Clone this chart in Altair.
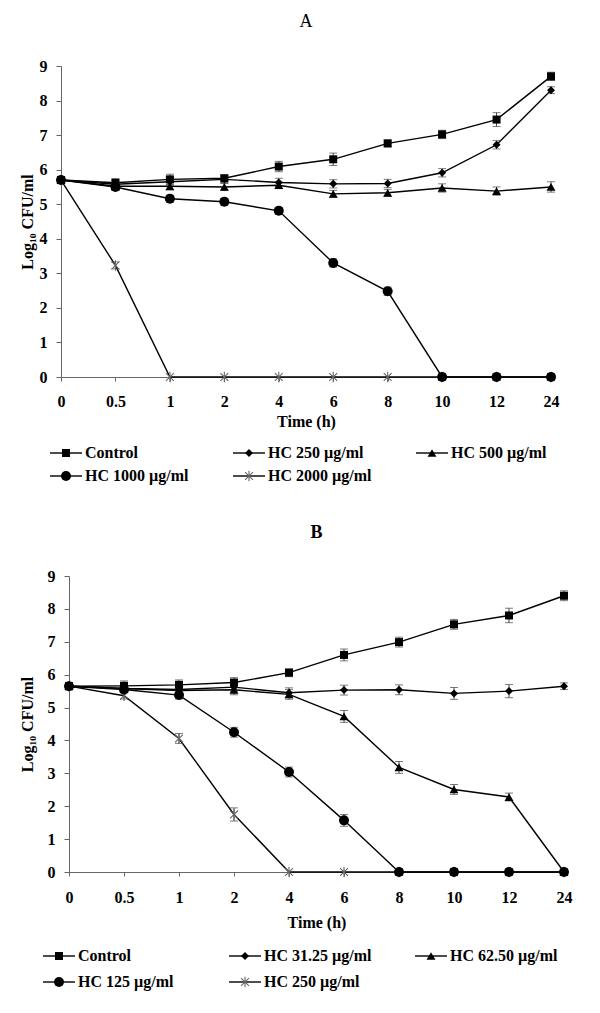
import altair as alt
import pandas as pd

FONT = "Liberation Serif"
times = ["0", "0.5", "1", "2", "4", "6", "8", "10", "12", "24"]

# ---------- Panel A ----------
a_names = ["Control", "HC 250 µg/ml", "HC 500 µg/ml", "HC 1000 µg/ml", "HC 2000 µg/ml"]
a_control = [5.70, 5.62, 5.72, 5.75, 6.09, 6.30, 6.76, 7.02, 7.45, 8.70]
a_hc250 = [5.70, 5.58, 5.65, 5.72, 5.63, 5.59, 5.60, 5.91, 6.72, 8.30]
a_hc500 = [5.70, 5.52, 5.52, 5.50, 5.55, 5.30, 5.33, 5.47, 5.38, 5.50]
a_hc1000 = [5.70, 5.50, 5.16, 5.07, 4.81, 3.30, 2.48, 0, 0, 0]
a_hc2000 = [5.70, 3.23, 0, 0, 0, 0, 0, 0, 0, 0]
a_err_control = [0.08, 0.12, 0.15, 0.10, 0.15, 0.18, 0.10, 0.12, 0.20, 0.12]
a_err_hc250 = [0.08, 0.10, 0.10, 0.10, 0.12, 0.12, 0.12, 0.12, 0.12, 0.10]
a_err_hc500 = [0.08, 0.10, 0.10, 0.10, 0.10, 0.10, 0.10, 0.12, 0.12, 0.15]
a_err_hc1000 = [0.08, 0.10, 0.10, 0.10, 0.10, 0.12, 0.12, 0, 0, 0]
a_err_hc2000 = [0.08, 0.10, 0, 0, 0, 0, 0, 0, 0, 0]

# ---------- Panel B ----------
b_names = ["Control", "HC 31.25 µg/ml", "HC 62.50 µg/ml", "HC 125 µg/ml", "HC 250 µg/ml"]
b_control = [5.65, 5.66, 5.69, 5.76, 6.06, 6.60, 6.99, 7.53, 7.80, 8.40]
b_hc3125 = [5.65, 5.58, 5.55, 5.62, 5.45, 5.53, 5.54, 5.43, 5.50, 5.65]
b_hc625 = [5.65, 5.58, 5.52, 5.54, 5.40, 4.73, 3.18, 2.51, 2.28, 0]
b_hc125 = [5.65, 5.55, 5.38, 4.25, 3.04, 1.57, 0, 0, 0, 0]
b_hc250 = [5.65, 5.36, 4.06, 1.75, 0, 0, 0, 0, 0, 0]
b_err_control = [0.08, 0.15, 0.15, 0.15, 0.12, 0.18, 0.15, 0.15, 0.22, 0.15]
b_err_hc3125 = [0.08, 0.12, 0.12, 0.12, 0.15, 0.15, 0.15, 0.18, 0.20, 0.10]
b_err_hc625 = [0.08, 0.12, 0.12, 0.15, 0.15, 0.18, 0.18, 0.15, 0.12, 0]
b_err_hc125 = [0.08, 0.10, 0.12, 0.15, 0.15, 0.18, 0, 0, 0, 0]
b_err_hc250 = [0.08, 0.10, 0.15, 0.20, 0, 0, 0, 0, 0, 0]

shapes = ["square", "diamond", "triangle-up", "circle", "asterisk"]
sizes = [64, 64, 80, 100, 110]
ASTER = "M0,-1L0,1M-0.75,-0.75L0.75,0.75M-0.75,0.75L0.75,-0.75"


def build_df(names, vals, errs):
    rows = []
    for k, (n, v, e) in enumerate(zip(names, vals, errs)):
        for i, t in enumerate(times):
            rows.append(dict(time=t, idx=i, series=n, k=k, value=v[i], err=e[i],
                             lo=v[i] - e[i], hi=v[i] + e[i],
                             shape=shapes[k], size=sizes[k]))
    return pd.DataFrame(rows)


def panel(df, title, title_weight, width, height, toff, ytitle_pad, xlab_pad, xtitle_pad):
    x = alt.X("time:O", sort=times, scale=alt.Scale(type="point", padding=0),
              axis=alt.Axis(title="Time (h)", labelAngle=0, labelPadding=xlab_pad,
                            titlePadding=xtitle_pad, tickSize=4))
    yscale = alt.Scale(domain=[0, 9])
    yaxis = alt.Axis(values=list(range(10)), title="Log₁₀ CFU/ml", grid=False,
                     tickSize=5, labelPadding=9, titlePadding=ytitle_pad)
    base = alt.Chart(df)
    lines = base.mark_line(color="black", strokeWidth=1.4).encode(
        x=x, y=alt.Y("value:Q", scale=yscale, axis=yaxis),
        detail="series:N", order=alt.Order("idx:Q"))
    eb = base.transform_filter("datum.err > 0")
    rules = eb.mark_rule(color="#444", strokeWidth=1).encode(
        x=x, y=alt.Y("lo:Q", scale=yscale, axis=yaxis), y2="hi:Q")
    cap_lo = eb.mark_tick(color="#444", size=8, thickness=1).encode(
        x=x, y=alt.Y("lo:Q", scale=yscale, axis=yaxis))
    cap_hi = eb.mark_tick(color="#444", size=8, thickness=1).encode(
        x=x, y=alt.Y("hi:Q", scale=yscale, axis=yaxis))
    aster = base.transform_filter("datum.shape == 'asterisk'").mark_point(
        shape=ASTER, filled=False, size=110, color="#666", strokeWidth=1.1, opacity=1).encode(
        x=x, y=alt.Y("value:Q", scale=yscale, axis=yaxis))
    pts = base.transform_filter("datum.shape != 'asterisk'").mark_point(
        filled=True, color="black", opacity=1).encode(
        x=x, y=alt.Y("value:Q", scale=yscale, axis=yaxis),
        shape=alt.Shape("shape:N", scale=None),
        size=alt.Size("size:Q", scale=None))
    return alt.layer(lines, rules, cap_lo, cap_hi, aster, pts).properties(
        width=width, height=height,
        title=alt.TitleParams(title, font=FONT, fontSize=18, fontWeight=title_weight,
                              color="black", offset=toff, anchor="middle"))


def legend(names, width, height, colstep, x0, top, rowstep):
    rows = []
    for k, n in enumerate(names):
        rows.append(dict(series=n, col=k % 3, row=k // 3, shape=shapes[k], size=sizes[k]))
    df = pd.DataFrame(rows)
    xs = alt.X("col:Q", scale=alt.Scale(domain=[0, 3], range=[x0, x0 + 3 * colstep]), axis=None)
    ys = alt.Y("row:Q", scale=alt.Scale(domain=[0, 1], range=[top, top + rowstep]), axis=None)
    base = alt.Chart(df)
    ln = base.mark_rule(color="black", strokeWidth=1.4, x2Offset=32).encode(
        x=xs, x2="col:Q", y=ys)
    ast = base.transform_filter("datum.shape == 'asterisk'").mark_point(
        shape=ASTER, filled=False, size=110, color="#666", strokeWidth=1.1, opacity=1,
        xOffset=16).encode(x=xs, y=ys)
    pt = base.transform_filter("datum.shape != 'asterisk'").mark_point(
        filled=True, color="black", opacity=1, xOffset=16).encode(
        x=xs, y=ys, shape=alt.Shape("shape:N", scale=None),
        size=alt.Size("size:Q", scale=None))
    tx = base.mark_text(align="left", baseline="middle", font=FONT, fontSize=16,
                        fontWeight="bold", color="black", xOffset=35).encode(
        x=xs, y=ys, text="series:N")
    return alt.layer(ln, ast, pt, tx).properties(width=width, height=height)


def spacer():
    return alt.Chart(pd.DataFrame({"v": [0]})).mark_rule(opacity=0).encode(
        x=alt.value(0), y=alt.value(0), y2=alt.value(1)).properties(width=1, height=1)


dfa = build_df(a_names, [a_control, a_hc250, a_hc500, a_hc1000, a_hc2000],
               [a_err_control, a_err_hc250, a_err_hc500, a_err_hc1000, a_err_hc2000])
dfb = build_df(b_names, [b_control, b_hc3125, b_hc625, b_hc125, b_hc250],
               [b_err_control, b_err_hc3125, b_err_hc625, b_err_hc125, b_err_hc250])

pa = panel(dfa, "A", "normal", 490, 311, 27, 4, 12, 4)
pb = panel(dfb, "B", "bold", 495, 296, 26, 12, 13, 9)
la = legend(a_names, 490, 46, 183, -11, 14, 23)
lb = legend(b_names, 495, 50, 186, -26, 16, 26)

row_a = alt.hconcat(spacer(), alt.vconcat(pa, la, spacing=10), spacing=5)
row_b = alt.hconcat(spacer(), alt.vconcat(pb, lb, spacing=10), spacing=5)

chart = alt.vconcat(row_a, row_b, spacing=39).configure_axis(
    labelFont=FONT, labelFontWeight="bold", labelFontSize=16, labelColor="black",
    titleFont=FONT, titleFontWeight="bold", titleFontSize=16, titleColor="black",
    domainColor="#666", tickColor="#666",
).configure_view(stroke=None)

chart.save("out.html", embed_options={"renderer": "svg", "actions": False})
